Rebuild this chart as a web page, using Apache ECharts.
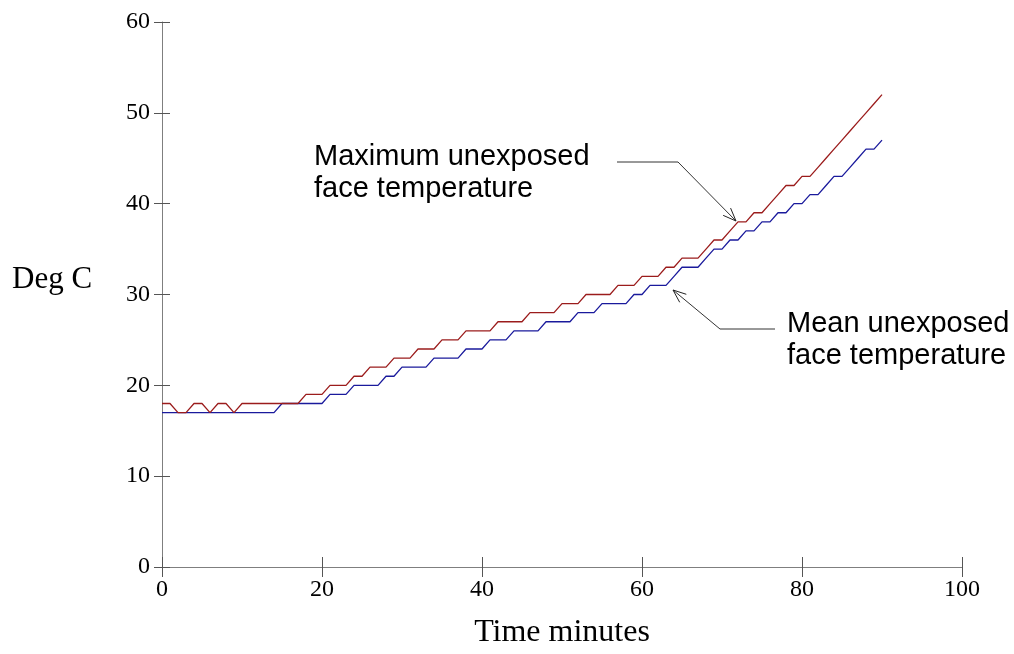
<!DOCTYPE html>
<html>
<head>
<meta charset="utf-8">
<script src="https://cdn.jsdelivr.net/npm/echarts@6/dist/echarts.min.js"></script>
<style>
  html, body { margin: 0; padding: 0; background: #fff; }
  #chart { width: 1014px; height: 654px; }
</style>
</head>
<body>
<div id="chart"></div>
<script>
// time in minutes, one reading per minute
const minutes = [];
for (let m = 0; m <= 90; m++) minutes.push(m);

const maxTemp = [
  18, 18, 17, 17, 18, 18, 17, 18, 18, 17,
  18, 18, 18, 18, 18, 18, 18, 18, 19, 19,
  19, 20, 20, 20, 21, 21, 22, 22, 22, 23,
  23, 23, 24, 24, 24, 25, 25, 25, 26, 26,
  26, 26, 27, 27, 27, 27, 28, 28, 28, 28,
  29, 29, 29, 30, 30, 30, 30, 31, 31, 31,
  32, 32, 32, 33, 33, 34, 34, 34, 35, 36,
  36, 37, 38, 38, 39, 39, 40, 41, 42, 42,
  43, 43, 44, 45, 46, 47, 48, 49, 50, 51,
  52
];

const meanTemp = [
  17, 17, 17, 17, 17, 17, 17, 17, 17, 17,
  17, 17, 17, 17, 17, 18, 18, 18, 18, 18,
  18, 19, 19, 19, 20, 20, 20, 20, 21, 21,
  22, 22, 22, 22, 23, 23, 23, 23, 24, 24,
  24, 25, 25, 25, 26, 26, 26, 26, 27, 27,
  27, 27, 28, 28, 28, 29, 29, 29, 29, 30,
  30, 31, 31, 31, 32, 33, 33, 33, 34, 35,
  35, 36, 36, 37, 37, 38, 38, 39, 39, 40,
  40, 41, 41, 42, 43, 43, 44, 45, 46, 46,
  47
];

const xTicks = { min: 0, max: 100, interval: 20 };
const yTicks = { min: 0, max: 60, interval: 10 };

const serif = '"Liberation Serif", "Times New Roman", serif';
const sans = '"Liberation Sans", Arial, sans-serif';
const axisGrey = '#7f7f7f';

let chart = echarts.init(document.getElementById('chart'));

function xAxisDef(inside, main) {
  return {
    type: 'value',
    position: 'bottom',
    min: xTicks.min, max: xTicks.max, interval: xTicks.interval,
    name: main ? 'Time minutes' : '',
    nameLocation: 'middle',
    nameGap: 50,
    nameTextStyle: { fontFamily: serif, fontSize: 32, color: '#000' },
    axisLine: { show: main, lineStyle: { color: axisGrey, width: 1 } },
    axisTick: { show: true, inside: inside, length: 10, lineStyle: { color: '#555', width: 1 } },
    axisLabel: { show: main, margin: 11, fontFamily: serif, fontSize: 24, color: '#000' },
    splitLine: { show: false }
  };
}

function yAxisDef(inside, main) {
  return {
    type: 'value',
    position: 'left',
    min: yTicks.min, max: yTicks.max, interval: yTicks.interval,
    axisLine: { show: main, lineStyle: { color: axisGrey, width: 1 } },
    axisTick: { show: true, inside: inside, length: 8, lineStyle: { color: '#555', width: 1 } },
    axisLabel: { show: main, margin: 12, fontFamily: serif, fontSize: 24, color: '#000' },
    splitLine: { show: false }
  };
}

function arrowHead(tipX, tipY, fromX, fromY) {
  const ang = Math.atan2(tipY - fromY, tipX - fromX);
  const len = 14, spread = 0.38;
  return {
    type: 'polyline',
    shape: {
      points: [
        [tipX - len * Math.cos(ang - spread), tipY - len * Math.sin(ang - spread)],
        [tipX, tipY],
        [tipX - len * Math.cos(ang + spread), tipY - len * Math.sin(ang + spread)]
      ]
    },
    style: { stroke: '#222', lineWidth: 1, fill: null }
  };
}

const option = {
  animation: false,
  backgroundColor: '#fff',
  grid: { left: 162, right: 52, top: 22, bottom: 83 },
  xAxis: [xAxisDef(false, true), xAxisDef(true, false)],
  yAxis: [yAxisDef(false, true), yAxisDef(true, false)],
  series: [
    {
      name: 'Maximum unexposed face temperature',
      type: 'line',
      data: minutes.map((m, i) => [m, maxTemp[i]]),
      showSymbol: false,
      lineStyle: { color: '#9b1c1c', width: 1.3 },
      z: 3
    },
    {
      name: 'Mean unexposed face temperature',
      type: 'line',
      data: minutes.map((m, i) => [m, meanTemp[i]]),
      showSymbol: false,
      lineStyle: { color: '#1a1a9c', width: 1.3 },
      z: 2
    }
  ],
  graphic: [
    {
      type: 'text', left: 12, top: 264,
      style: { text: 'Deg C', font: '31px ' + serif, fill: '#000' }
    },
    {
      type: 'text', left: 314, top: 141,
      style: { text: 'Maximum unexposed\nface temperature', font: '29px ' + sans, fill: '#000', lineHeight: 32 }
    },
    {
      type: 'text', left: 787, top: 308,
      style: { text: 'Mean unexposed\nface temperature', font: '29px ' + sans, fill: '#000', lineHeight: 32 }
    },
    {
      type: 'polyline',
      shape: { points: [[617, 162], [678, 162], [736, 221]] },
      style: { stroke: '#333', lineWidth: 1, fill: null }
    },
    arrowHead(736, 221, 678, 162),
    {
      type: 'polyline',
      shape: { points: [[775, 329], [720, 329], [673, 290]] },
      style: { stroke: '#333', lineWidth: 1, fill: null }
    },
    arrowHead(673, 290, 720, 329)
  ]
};

chart.setOption(option);
</script>
</body>
</html>
